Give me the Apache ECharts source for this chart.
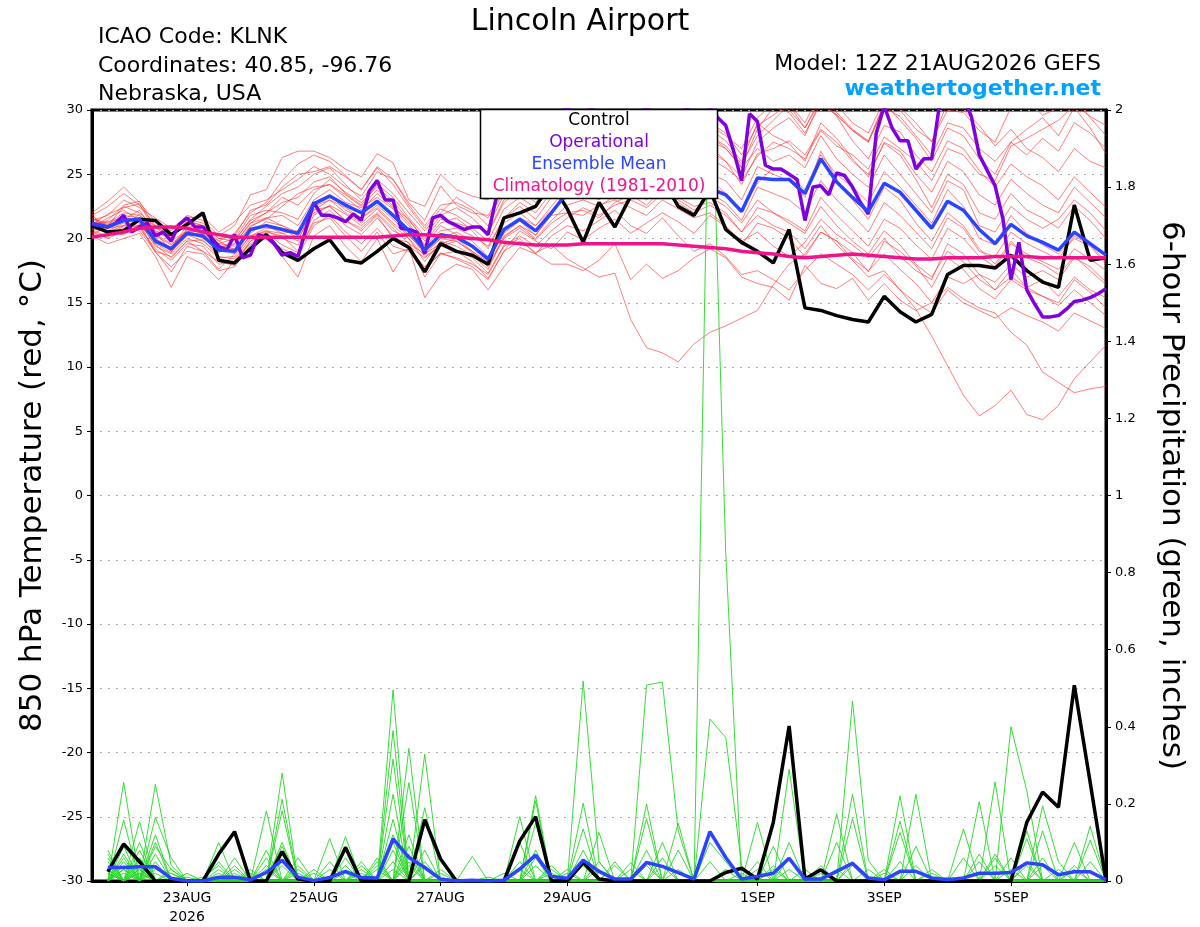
<!DOCTYPE html>
<html>
<head>
<meta charset="utf-8">
<script src="https://cdn.jsdelivr.net/npm/echarts@6/dist/echarts.min.js"></script>
<style>html,body{margin:0;padding:0;background:#fff}#chart{width:1200px;height:927px}</style>
</head>
<body>
<div id="chart"></div>
<script>
// ---------- data (6-hourly from 12Z 21AUG2026; operational is 3-hourly) ----------
const ensStepHours = 6;
const opStepHours = 3;
const tickHours = [36, 84, 132, 180, 252, 300, 348];
const tickLabels = ['23AUG\n2026', '25AUG', '27AUG', '29AUG', '1SEP', '3SEP', '5SEP'];

const tempControl = [21.0,20.5,20.6,21.5,21.4,20.3,21.1,22.0,18.3,18.1,
 19.2,20.3,18.9,18.3,19.2,19.9,18.3,18.1,19.0,20.0,
 19.3,17.4,19.6,19.0,18.7,18.0,21.6,22.0,22.5,24.3,
 22.3,19.7,22.8,20.9,23.3,24.2,24.6,22.5,21.8,23.8,
 20.7,19.7,19.0,18.1,20.7,14.6,14.4,14.0,13.7,13.5,
 15.5,14.3,13.5,14.1,17.2,17.9,17.9,17.7,18.7,17.5,
 16.6,16.2,22.6,18.3,18.5];

const tempMean = [21.2,20.9,21.4,21.5,19.8,19.2,20.4,20.2,19.1,19.0,
 20.7,21.0,20.7,20.4,22.7,23.3,22.6,22.0,22.9,21.8,
 20.6,19.1,20.3,20.1,19.4,18.4,20.7,21.5,20.6,22.0,
 23.6,23.8,23.5,24.2,24.5,24.0,24.8,24.3,23.8,23.9,
 23.4,22.1,24.7,24.6,24.6,23.5,26.2,24.4,23.2,22.1,
 24.3,23.6,22.2,20.8,22.9,22.2,20.7,19.6,21.1,20.2,
 19.7,19.1,20.5,19.6,18.7];

const tempClimatology = [20.1,20.3,20.5,20.8,20.9,20.9,20.8,20.5,20.3,20.1,
 20.1,20.1,20.1,20.1,20.1,20.1,20.1,20.1,20.1,20.2,
 20.3,20.3,20.2,20.1,20.0,19.9,19.7,19.6,19.5,19.5,
 19.5,19.6,19.6,19.6,19.6,19.6,19.6,19.5,19.4,19.3,
 19.2,19.0,18.9,18.8,18.6,18.5,18.6,18.7,18.8,18.7,
 18.6,18.5,18.4,18.4,18.5,18.5,18.5,18.6,18.6,18.6,
 18.5,18.5,18.5,18.5,18.5];

const tempOperational = [21.1,21.0,20.9,21.2,21.8,20.5,20.9,21.2,20.2,20.5,
 19.8,21.1,21.6,20.9,20.9,20.1,19.4,19.1,20.3,18.5,
 18.7,20.3,20.1,19.6,18.7,18.9,18.6,20.7,22.8,21.8,
 21.8,21.6,21.3,21.9,21.4,23.7,24.5,23.0,23.0,20.8,
 20.7,20.5,18.8,21.6,21.8,21.3,21.0,20.7,20.9,20.9,
 20.3,23.1,25.0,26.5,27.2,26.0,27.5,28.5,27.8,29.0,
 30.5,29.0,28.2,30.3,29.0,27.5,26.8,27.5,28.5,29.2,
 30.4,29.0,28.0,27.4,28.8,30.2,29.5,28.8,30.2,29.4,
 28.8,26.8,24.5,29.7,29.1,25.7,25.4,25.4,25.0,24.6,
 21.4,24.0,24.1,23.4,25.1,24.9,24.0,22.8,21.9,28.2,
 30.3,28.6,27.6,27.6,25.4,26.2,26.2,30.5,32.0,33.0,
 31.0,29.5,26.5,25.3,24.1,21.5,16.8,19.7,16.0,14.9,
 13.9,13.9,14.0,14.5,15.1,15.2,15.4,15.7,16.1];

const tempM01 = [21.8,22.5,23.5,22.6,21.0,20.1,21.3,21.0,19.8,20.4,22.0,22.8,24.5,25.8,26.5,26.0,24.9,23.8,25.5,24.2,22.4,20.8,22.3,21.8,21.0,20.5,23.0,24.2,23.5,25.3,26.5,27.3,26.2,27.8,28.4,27.0,28.5,27.6,26.3,27.2,26.0,24.8,27.5,28.6,29.4,28.0,30.8,29.5,27.6,26.2,28.8,28.3,26.5,25.2,27.6,27.0,25.3,24.0,25.8,24.8,24.1,23.0,24.8,23.6,22.4];
const tempM02 = [20.6,20.2,20.8,21.0,18.9,17.8,19.0,18.8,17.5,17.8,19.5,20.0,19.2,18.6,21.0,21.8,20.5,19.6,20.8,19.4,19.0,17.5,18.9,18.4,17.8,16.8,19.0,19.8,18.9,19.5,18.4,17.7,17.0,17.3,13.7,11.5,11.1,10.4,11.8,12.7,13.2,13.8,14.4,16.4,18.0,18.8,20.5,19.8,18.9,17.4,19.8,19.0,17.9,16.2,18.5,17.6,16.1,15.3,16.8,16.0,15.5,15.0,16.8,15.8,14.6];
const tempM03 = [21.5,21.2,22.0,21.8,20.2,19.5,20.6,20.0,19.4,19.2,20.4,21.3,21.0,20.2,22.2,23.0,22.0,21.2,22.3,21.0,20.0,18.2,19.8,19.4,18.7,17.6,20.2,21.0,20.0,21.4,22.6,23.0,22.5,23.3,23.8,23.0,24.0,23.2,22.5,22.8,22.0,20.5,21.8,21.0,20.5,19.2,21.0,19.5,18.3,17.0,17.5,16.0,14.5,12.4,10.1,7.8,6.2,7.0,8.2,6.3,5.9,7.0,9.1,10.4,11.7];
const tempM04 = [20.8,20.5,21.0,21.3,19.4,18.8,20.0,19.6,18.5,18.6,20.2,20.6,20.0,19.5,21.8,22.6,21.9,21.0,22.0,20.8,19.6,18.8,20.0,19.8,19.0,18.0,20.1,21.0,20.3,21.8,22.0,21.8,22.6,23.0,22.4,21.8,23.0,22.3,21.6,22.0,21.0,19.5,21.2,20.8,20.0,18.6,20.5,19.8,18.4,17.5,18.8,17.6,16.5,15.0,16.2,15.3,14.6,14.2,12.7,11.7,9.6,8.8,8.0,8.3,8.5];
const tempM05 = [21.0,21.4,22.6,22.9,20.8,20.4,21.5,21.2,20.0,19.8,21.5,22.5,23.5,24.0,25.0,25.5,24.2,23.0,24.6,23.5,22.0,20.6,22.0,23.2,22.4,21.6,23.6,24.8,23.9,25.8,27.2,28.3,27.5,28.8,29.6,28.5,30.2,29.4,28.0,29.0,28.2,26.5,28.8,29.6,30.5,29.0,31.5,30.4,29.0,28.2,30.8,30.2,29.0,27.5,30.6,30.0,28.8,27.2,28.5,27.0,26.3,25.2,27.0,26.0,25.5];
const tempM06 = [21.6,20.8,21.0,21.9,20.5,19.0,20.2,20.4,19.6,19.4,21.0,21.5,22.5,23.5,24.0,24.2,23.4,22.5,23.8,22.5,21.2,19.5,21.0,20.3,19.5,18.5,21.2,22.0,21.0,22.5,24.0,24.6,24.3,25.4,25.8,25.0,26.0,25.5,24.8,25.0,24.5,23.0,25.6,25.0,24.5,23.2,26.8,24.6,23.0,21.5,24.0,23.0,21.2,19.8,22.0,21.0,19.2,18.0,19.8,18.5,18.0,17.2,18.6,17.5,16.4];
const tempM07 = [20.2,19.6,20.0,20.4,18.6,16.2,18.6,18.0,16.8,18.3,19.6,20.2,18.6,17.0,20.2,21.0,19.4,18.2,20.0,17.4,19.3,15.4,17.2,18.0,17.6,16.0,17.8,19.3,18.8,18.0,18.0,17.5,18.3,19.6,16.8,18.0,16.9,17.5,18.5,19.2,18.5,17.0,16.5,16.2,15.2,17.9,16.5,16.1,16.9,15.2,16.5,15.2,14.4,15.0,17.0,16.5,17.2,16.0,17.0,16.2,16.8,15.5,17.0,16.0,15.4];
const tempM08 = [22.0,22.9,24.0,22.8,21.3,20.6,21.8,21.4,20.2,21.0,23.4,23.8,26.3,26.8,26.8,26.3,25.4,24.8,26.6,25.9,23.0,22.5,25.0,23.8,23.3,23.0,24.5,25.5,24.2,26.0,27.8,28.6,27.0,28.0,29.0,28.0,29.5,28.8,27.4,28.0,27.0,25.5,27.0,26.0,26.5,25.5,28.0,26.2,25.0,24.0,26.5,25.0,23.5,22.0,24.5,23.8,21.0,20.5,22.5,21.5,20.8,21.5,23.0,22.0,20.6];
const tempM09 = [21.3,21.1,21.8,21.6,19.6,18.9,20.8,20.6,19.2,18.8,20.6,21.0,20.4,19.8,22.5,23.0,22.4,21.6,22.4,21.2,20.2,19.0,20.0,20.5,19.8,18.6,20.4,21.4,20.2,22.0,23.4,24.0,23.2,24.8,25.0,24.2,25.5,24.0,23.5,24.6,23.5,22.2,24.3,25.5,25.0,23.8,26.5,25.0,24.0,22.8,25.2,24.0,22.6,21.2,23.8,22.5,20.0,19.5,21.8,20.4,19.5,18.8,20.0,19.4,18.0];
const tempM10 = [20.9,21.6,22.2,21.4,20.0,19.3,21.0,20.8,19.6,20.0,21.8,22.2,22.0,21.5,23.5,24.6,23.6,22.8,24.0,22.9,21.4,20.0,21.5,21.2,20.8,19.8,22.3,23.2,22.4,24.0,25.3,26.0,25.4,26.8,27.5,26.6,28.0,27.2,26.5,27.6,27.0,25.6,28.5,30.2,29.8,28.2,30.5,29.6,28.4,27.5,30.5,29.2,27.8,26.0,28.6,28.0,26.2,25.0,27.5,26.5,27.8,26.8,29.0,28.2,27.0];
const tempM11 = [20.5,20.0,20.6,20.8,19.2,18.3,19.6,19.4,18.0,18.2,19.8,20.4,19.5,18.9,21.4,22.2,21.0,20.3,21.6,20.2,19.4,18.5,19.4,19.1,18.5,17.3,19.5,20.2,19.4,20.6,21.6,22.4,21.8,22.6,23.0,22.4,23.5,22.8,22.0,22.6,21.8,20.5,22.4,22.0,21.4,20.6,23.2,21.8,20.6,19.4,21.5,20.8,19.5,18.4,20.8,20.0,18.6,17.8,19.6,18.8,18.2,17.6,19.2,18.4,17.5];
const tempM12 = [21.2,21.0,21.5,22.2,20.3,19.6,20.5,20.6,19.8,19.1,20.9,21.6,21.8,21.0,23.0,23.8,22.8,22.4,23.2,22.3,21.0,19.4,20.6,20.8,20.2,19.4,21.6,22.5,21.5,23.2,24.6,25.3,24.8,25.9,26.4,25.6,27.2,26.5,25.4,26.2,25.5,24.5,26.4,27.5,27.0,26.2,28.4,27.2,26.5,25.4,27.9,27.0,26.0,24.5,27.0,26.5,25.0,24.5,27.2,27.8,28.5,29.2,30.4,29.5,28.8];
const tempM13 = [21.9,20.4,20.3,21.1,19.0,17.4,19.4,19.0,17.6,18.8,20.2,20.8,20.8,20.0,22.0,22.5,21.4,20.6,21.8,20.0,19.7,17.0,18.8,19.0,18.2,16.9,19.0,20.6,19.8,19.2,20.5,19.9,20.8,21.5,20.4,21.2,22.0,21.3,20.4,21.8,20.9,19.8,20.5,19.4,18.6,19.7,21.5,20.3,19.5,18.5,20.0,18.6,17.5,16.8,19.6,18.8,17.2,16.6,18.0,17.0,17.5,16.8,18.5,17.8,16.6];
const tempM14 = [21.4,21.8,23.0,22.4,21.6,20.8,21.6,21.7,20.5,21.3,22.6,23.0,23.8,24.6,25.6,25.0,24.0,23.3,25.2,24.6,22.8,21.4,24.1,22.6,22.0,21.8,23.8,24.0,23.0,24.6,25.8,26.8,26.0,27.2,28.2,27.6,29.0,28.2,27.0,28.5,27.6,26.0,29.0,28.0,27.4,26.0,29.0,27.8,26.2,24.8,27.5,26.8,25.0,23.6,26.0,25.2,23.4,22.6,24.6,23.5,22.6,22.0,24.0,22.8,21.6];
const tempM15 = [20.7,20.6,21.2,21.0,19.9,19.0,20.3,19.8,18.9,19.6,21.2,21.6,21.0,20.5,22.8,23.4,22.2,21.6,22.6,21.5,20.3,18.8,19.6,20.0,19.0,18.2,20.5,21.6,21.0,22.2,23.2,23.6,23.0,24.0,24.6,23.8,25.0,24.2,23.2,23.5,22.8,21.4,24.0,23.5,23.0,22.0,24.5,23.0,21.8,20.5,22.8,21.8,20.5,19.2,21.6,20.8,19.0,18.6,20.5,19.6,19.0,18.4,20.2,19.5,18.2];
const tempM16 = [21.0,21.3,21.6,21.4,20.6,20.2,21.2,20.6,19.3,19.6,21.2,22.0,22.8,23.2,24.4,24.8,23.5,22.6,24.2,23.2,21.6,20.2,21.8,22.4,21.6,20.4,22.8,23.8,22.8,24.5,26.0,26.8,26.0,27.5,28.2,27.2,29.0,28.0,27.0,28.0,27.2,25.8,28.0,29.2,30.4,28.6,31.0,29.8,28.5,27.6,30.4,30.0,28.5,27.6,30.0,29.8,28.4,27.5,30.2,30.8,29.6,30.2,31.0,29.4,28.0];
const tempM17 = [20.4,20.8,21.4,21.2,19.5,18.5,19.8,19.0,18.2,17.9,19.8,20.5,20.2,19.0,21.2,21.6,20.2,19.0,20.5,18.8,19.2,17.8,18.8,18.5,18.0,17.2,19.4,20.0,18.8,20.2,21.0,20.6,21.4,22.2,21.0,20.4,21.6,20.2,19.0,19.6,18.6,17.2,17.5,16.8,16.0,17.5,18.8,18.0,17.2,16.0,17.2,16.0,15.0,14.2,16.0,15.0,14.4,13.8,14.6,14.0,13.5,12.8,14.2,13.6,13.0];
const tempM18 = [21.7,21.0,22.5,22.0,20.9,19.8,20.6,20.2,19.0,19.9,21.4,22.0,23.2,22.6,23.8,24.2,23.2,22.2,23.5,22.4,21.5,19.8,21.2,21.6,20.6,19.2,21.6,22.8,22.0,23.6,24.8,25.6,25.0,26.2,26.8,26.0,27.6,26.8,25.8,26.8,26.0,24.2,26.6,27.0,27.6,26.5,28.5,27.5,26.0,25.0,27.4,26.5,24.6,22.4,25.0,24.2,22.0,21.5,23.5,22.2,21.6,20.8,22.5,21.4,20.0];
const tempM19 = [21.1,21.9,22.4,22.7,20.5,20.0,21.4,21.0,20.0,20.2,22.2,22.6,24.0,25.0,25.2,25.6,24.8,23.8,25.6,24.6,22.6,21.0,22.6,22.8,22.2,21.0,23.4,24.4,23.6,25.5,26.8,27.6,27.0,28.4,29.2,28.4,30.0,29.0,28.0,28.8,28.0,27.0,29.4,30.5,30.0,28.6,30.8,29.6,28.4,27.5,30.2,29.5,28.0,26.5,29.0,28.6,27.0,26.0,27.5,28.5,29.4,28.0,30.2,28.6,26.6];
const tempM20 = [20.3,20.1,21.0,20.6,19.0,18.6,19.8,19.9,18.6,18.4,20.0,20.6,20.4,20.6,22.2,22.5,21.4,20.8,21.9,20.6,20.0,18.6,19.4,19.8,18.9,17.8,20.0,20.8,19.9,21.2,22.0,22.2,21.6,22.8,23.4,22.6,23.8,23.0,22.2,23.2,22.5,21.2,23.0,22.0,21.2,20.4,22.5,21.0,19.8,18.8,20.6,19.5,18.0,17.0,19.0,18.2,16.8,16.0,17.6,16.2,15.5,14.8,16.0,15.0,14.0];

const precipControl = [null,.024,.096,.05,0,0,0,0,.07,.128,
 0,0,.076,.005,0,0,.087,0,0,0,
 0,.159,.057,0,0,0,0,.104,.167,0,
 0,.048,.005,0,0,0,0,0,0,0,
 .022,.033,.005,.152,.402,.005,.029,0,0,0,
 0,0,0,0,0,0,0,0,0,.152,
 .231,.191,.508,.256,0];

const precipMean = [null,.035,.035,.037,.037,.007,0,0,.01,.01,
 .003,.022,.054,.01,.001,.009,.025,.009,.008,.109,
 .061,.035,.005,0,.002,0,.002,.031,.067,.012,
 .007,.054,.025,.005,.005,.048,.038,.022,.005,.128,
 .061,.005,.012,.02,.059,.005,.005,.025,.046,.008,
 .003,.025,.025,.008,.003,.008,.02,.02,.022,.047,
 .042,.016,.024,.024,.003];

const precipM01 = [null,.03,0,.154,0,.02,0,0,0,0, 0,.182,0,0,0,0,.115,0,0,.496, 0,.05,0,0,0,0,0,0,0,.03, 0,0,0,0,0,.04,0,0,0,0, 0,.02,0,0,0,0,0,.174,0,0, 0,0,0,.03,0,0,0,0,0,0, .13,0,0,0,0];
const precipM02 = [null,0,.256,0,.1,0,0,0,.1,0, 0,0,.28,0,0,0,0,0,.04,0, .344,0,0,0,0,.01,0,0,0,0, 0,.519,.05,0,0,0,0,0,0,0, 0,0,0,.04,0,0,0,0,.225,0, 0,0,0,0,0,.135,0,0,0,0, 0,.03,0,0,0];
const precipM03 = [null,.06,0,.08,0,0,.01,0,0,0, .02,0,.04,0,0,0,.09,0,0,0, 0,.329,0,0,0,0,0,0,.06,0, 0,0,0,.05,0,0,0,0,0,.42, .372,.04,0,0,0,0,0,0,0,0, .02,0,0,0,0,0,0,.04,0,0, 0,0,0,.05,0];
const precipM04 = [null,0,.158,0,.251,.04,0,0,0,.03, 0,0,0,.04,0,0,0,0,0,.39, 0,0,0,0,0,0,0,.167,0,0, 0,0,.126,0,0,0,0,0,0,0, 0,0,0,0,.29,0,0,0,0,0, 0,.221,0,0,0,0,0,0,0,.11, 0,0,0,0,0];
const precipM05 = [null,.02,0,.05,0,0,0,.01,.04,0, 0,.06,0,0,0,.11,0,0,0,.316, 0,0,0,0,0,0,.02,0,0,0, 0,.04,0,0,0,.508,.516,.13,0,0, 0,0,0,0,0,0,0,.1,0,0, 0,0,0,0,0,0,.206,0,0,0, 0,0,.1,0,0];
const precipM06 = [null,0,.06,0,.165,.06,0,0,0,0, 0,0,.212,0,0,0,0,.05,0,0, .255,0,.03,0,0,0,0,0,0,0, .03,0,0,0,.048,0,0,.03,0,0, 0,0,.152,0,0,0,0,0,0,0, 0,.155,0,0,0,0,0,.07,0,0, 0,0,0,.142,0];
const precipM07 = [null,.08,0,.03,0,0,0,0,0,.04, 0,0,0,.06,0,0,.04,0,0,.03, 0,0,0,0,0,0,0,.1,0,0, 0,0,.05,0,0,0,0,0,0,.1, .05,0,0,0,0,0,0,0,.467,.053, 0,0,0,0,0,0,0,0,.06,0, 0,0,0,0,0];
const precipM08 = [null,0,.04,0,.04,0,.02,0,0,0, 0,.03,0,0,0,.05,0,0,0,.225, 0,0,0,0,0,0,0,0,.221,0, 0,0,0,0,0,.2,0,0,0,0, 0,0,0,0,.1,0,0,0,0,0, 0,0,.225,0,0,0,0,0,0,.05, 0,0,0,0,0];
const precipM09 = [null,.04,0,.06,0,.03,0,0,.03,0, 0,0,.182,0,0,0,0,0,.06,0, .12,0,0,0,.064,0,0,0,0,0, 0,.202,0,0,0,0,0,.08,0,0, 0,0,.03,0,0,0,0,0,.162,0, 0,0,0,0,0,0,.07,0,0,0, 0,0,.04,0,0];
const precipM10 = [null,0,.03,0,.07,0,0,0,0,0, .03,0,0,.03,0,0,0,.04,0,0, .07,0,0,0,0,0,0,.05,0,0, 0,.05,0,0,0,0,.1,0,0,0, 0,0,0,0,0,.03,0,0,0,0, 0,.126,0,0,0,0,0,0,0,.13, 0,0,0,0,0];
const precipM11 = [null,.02,0,.02,0,0,0,0,.02,0, 0,0,.1,0,0,0,0,0,0,.16, 0,.04,0,0,0,0,0,0,.208,0, 0,0,0,.04,0,0,0,0,0,2.25, .85,0,0,0,0,0,0,0,.05,0, 0,0,0,0,0,0,0,.257,0,0, 0,0,0,0,0];
const precipM12 = [null,0,.09,0,.03,.02,0,0,0,.02, 0,0,0,0,.02,0,0,0,.03,0, 0,.19,0,0,0,0,0,0,0,.02, 0,0,0,0,0,.162,0,0,0,0, 0,0,0,.09,0,0,0,0,0,0, 0,0,.09,0,0,0,0,0,0,.04, 0,0,0,0,0];
const precipM13 = [null,.05,0,.04,0,0,0,0,0,0, 0,.08,0,0,0,.03,0,0,0,.1, 0,0,.02,0,0,0,0,0,0,0, 0,.135,0,0,0,0,.04,0,0,0, 0,0,0,0,0,0,.02,0,0,0, 0,0,0,.02,0,0,0,0,0,0, .195,.05,0,0,0];
const precipM14 = [null,0,.02,0,.05,0,0,0,.05,0, 0,0,.07,0,0,0,0,.03,0,0, .05,0,0,0,0,0,0,0,.15,0, 0,0,0,0,.03,0,0,0,0,0, 0,0,.05,0,0,0,0,0,0,.03, 0,0,0,0,0,0,0,.06,0,0, 0,0,0,0,0];
const precipM15 = [null,.03,0,.02,0,0,0,0,0,.06, 0,0,0,0,0,0,.06,0,0,.08, 0,0,0,0,0,0,0,.03,0,0, 0,0,.03,0,0,0,0,0,0,.05, 0,0,0,0,0,0,0,.03,0,0, 0,0,0,0,0,.06,0,0,0,0, 0,0,.03,0,0];
const precipM16 = [null,0,.05,0,.09,.03,0,0,0,0, 0,0,0,.02,0,0,0,0,0,0, .09,0,0,0,0,0,0,0,0,.04, 0,0,0,0,0,.05,0,0,0,0, 0,0,0,.03,0,0,0,0,0,0, .03,0,0,0,0,0,0,0,.4,.234, 0,0,0,0,0];
const precipM17 = [null,.02,0,.1,0,0,0,0,0,0, 0,.04,0,0,0,0,0,0,.05,0, 0,.08,0,0,0,0,0,0,0,0, 0,.08,0,0,0,0,0,0,0,0, .03,0,0,0,0,0,0,0,.04,0, 0,0,0,0,0,0,.05,0,0,0, 0,0,0,.106,0];
const precipM18 = [null,0,.03,0,.02,0,0,0,0,0, 0,0,.05,0,0,0,.02,0,0,.12, 0,0,0,0,0,0,0,0,.08,0, 0,0,0,0,0,.08,0,0,0,0, 0,0,0,0,.06,0,0,0,0,0, 0,0,.04,0,0,0,0,0,0,0, .06,0,0,0,0];
const precipM19 = [null,.07,0,.03,0,0,0,0,0,0, 0,0,0,0,.03,0,0,0,0,0, .04,0,0,0,0,0,0,0,0,0, .02,0,0,0,0,0,.06,0,0,0, 0,0,0,0,0,0,.04,0,0,0, 0,.05,0,0,0,0,0,0,.03,0, 0,0,0,0,0];
const precipM20 = [null,0,.07,0,.12,0,0,0,0,0, 0,0,.09,0,0,0,0,.02,0,.05, 0,0,0,0,0,0,0,0,.04,0, 0,0,0,0,0,0,0,.15,0,0, 0,0,0,0,.03,0,0,0,0,0, 0,0,0,0,.01,0,0,0,0,0, .04,0,0,0,0];

const tempMembers = [tempM01,tempM02,tempM03,tempM04,tempM05,tempM06,tempM07,tempM08,tempM09,tempM10,
  tempM11,tempM12,tempM13,tempM14,tempM15,tempM16,tempM17,tempM18,tempM19,tempM20];
const precipMembers = [precipM01,precipM02,precipM03,precipM04,precipM05,precipM06,precipM07,precipM08,precipM09,precipM10,
  precipM11,precipM12,precipM13,precipM14,precipM15,precipM16,precipM17,precipM18,precipM19,precipM20];

// ---------- chart ----------
const FONT = '"DejaVu Sans", "Liberation Sans", Arial, sans-serif';
const C_OPER = '#8000dd', C_MEAN = '#2b44ff', C_CLIM = '#f0148c', C_RED = 'rgba(255,45,45,0.62)', C_GREEN = 'rgba(35,215,35,0.9)';

function toPairs(arr, step) { return arr.map((v, i) => [i * step, v]); }

const series = [];
tempMembers.forEach((m, k) => series.push({
  name: 'Member ' + (k + 1) + ' temperature', type: 'line', yAxisIndex: 0,
  data: toPairs(m, ensStepHours), symbol: 'none', silent: true, z: 1,
  lineStyle: { color: C_RED, width: 1 }
}));
precipMembers.forEach((m, k) => series.push({
  name: 'Member ' + (k + 1) + ' precipitation', type: 'line', yAxisIndex: 1,
  data: toPairs(m, ensStepHours), symbol: 'none', silent: true, z: 2,
  lineStyle: { color: C_GREEN, width: 1 }
}));
series.push(
  { name: 'Control precip', type: 'line', yAxisIndex: 1, data: toPairs(precipControl, ensStepHours), symbol: 'none', z: 3, lineStyle: { color: '#000', width: 3.5 } },
  { name: 'Ensemble Mean precip', type: 'line', yAxisIndex: 1, data: toPairs(precipMean, ensStepHours), symbol: 'none', z: 4, lineStyle: { color: C_MEAN, width: 3.5 } },
  { name: 'Control', type: 'line', yAxisIndex: 0, data: toPairs(tempControl, ensStepHours), symbol: 'none', z: 5, lineStyle: { color: '#000', width: 3.5 } },
  { name: 'Operational', type: 'line', yAxisIndex: 0, data: toPairs(tempOperational, opStepHours), symbol: 'none', z: 6, lineStyle: { color: C_OPER, width: 3.5 } },
  { name: 'Ensemble Mean', type: 'line', yAxisIndex: 0, data: toPairs(tempMean, ensStepHours), symbol: 'none', z: 7, lineStyle: { color: C_MEAN, width: 3.5 } },
  { name: 'Climatology (1981-2010)', type: 'line', yAxisIndex: 0, data: toPairs(tempClimatology, ensStepHours), symbol: 'none', z: 8, lineStyle: { color: C_CLIM, width: 3.5 } }
);

const legendItems = [
  { text: 'Control', color: '#000' },
  { text: 'Operational', color: C_OPER },
  { text: 'Ensemble Mean', color: C_MEAN },
  { text: 'Climatology (1981-2010)', color: C_CLIM }
];

const graphic = [
  { type: 'text', z: 100, style: { x: 98, y: 37, text: 'ICAO Code: KLNK', font: '22px ' + FONT, fill: '#000', align: 'left', verticalAlign: 'middle' } },
  { type: 'text', z: 100, style: { x: 98, y: 66, text: 'Coordinates: 40.85, -96.76', font: '22px ' + FONT, fill: '#000', align: 'left', verticalAlign: 'middle' } },
  { type: 'text', z: 100, style: { x: 98, y: 94, text: 'Nebraska, USA', font: '22px ' + FONT, fill: '#000', align: 'left', verticalAlign: 'middle' } },
  { type: 'text', z: 100, style: { x: 1101, y: 64, text: 'Model: 12Z 21AUG2026 GEFS', font: '22px ' + FONT, fill: '#000', align: 'right', verticalAlign: 'middle' } },
  { type: 'text', z: 100, style: { x: 1101, y: 89, text: 'weathertogether.net', font: 'bold 22px ' + FONT, fill: '#00a2ff', align: 'right', verticalAlign: 'middle' } },
  { type: 'rect', z: 100, shape: { x: 480.5, y: 109.5, width: 237, height: 89 }, style: { fill: '#fff', stroke: '#000', lineWidth: 1.5 } }
].concat(legendItems.map((it, k) => ({
  type: 'text', z: 101,
  style: { x: 599, y: 121 + k * 21.7, text: it.text, font: '17px ' + FONT, fill: it.color, align: 'center', verticalAlign: 'middle' }
})));

const option = {
  backgroundColor: '#fff',
  animation: false,
  title: {
    text: 'Lincoln Airport', left: 575, top: 2, textAlign: 'center',
    textStyle: { fontFamily: FONT, fontSize: 30, fontWeight: 'normal', color: '#000' }
  },
  grid: { left: 92, right: 94, top: 110, bottom: 45, show: true, borderColor: '#000', borderWidth: 3, backgroundColor: 'transparent' },
  xAxis: {
    type: 'value', min: 0, max: 384,
    axisLine: { show: true, onZero: false, lineStyle: { color: '#000', width: 3 } },
    axisTick: { show: true, customValues: tickHours, length: 5, lineStyle: { color: '#000', width: 1 } },
    axisLabel: {
      customValues: tickHours,
      formatter: v => { const k = tickHours.indexOf(v); return k >= 0 ? tickLabels[k] : ''; },
      fontFamily: FONT, fontSize: 14, color: '#000', lineHeight: 19, margin: 8
    },
    splitLine: { show: false }
  },
  yAxis: [
    {
      type: 'value', min: -30, max: 30, interval: 5, position: 'left',
      axisLine: { show: true, lineStyle: { color: '#000', width: 3 } },
      axisTick: { show: true, length: 5, lineStyle: { color: '#000', width: 1 } },
      axisLabel: { fontFamily: FONT, fontSize: 13, color: '#000', margin: 9 },
      splitLine: { show: true, lineStyle: { color: '#aaa', width: 1.2, type: [2, 6] } },
      name: '850 hPa Temperature (red, °C)', nameLocation: 'middle', nameGap: 44,
      nameTextStyle: { fontFamily: FONT, fontSize: 31, color: '#000' }
    },
    {
      type: 'value', min: 0, max: 2, interval: 0.2, position: 'right',
      axisLine: { show: true, lineStyle: { color: '#000', width: 3 } },
      axisTick: { show: true, length: 5, lineStyle: { color: '#000', width: 1 } },
      axisLabel: { fontFamily: FONT, fontSize: 13, color: '#000', margin: 9 },
      splitLine: { show: false },
      name: '6-hour Precipitation (green, inches)', nameLocation: 'middle', nameGap: 50, nameRotate: -90,
      nameTextStyle: { fontFamily: FONT, fontSize: 31, color: '#000' }
    }
  ],
  graphic: graphic,
  series: series
};

const chart = echarts.init(document.getElementById('chart'), null, { renderer: 'canvas' });
chart.setOption(option);
</script>
</body>
</html>
